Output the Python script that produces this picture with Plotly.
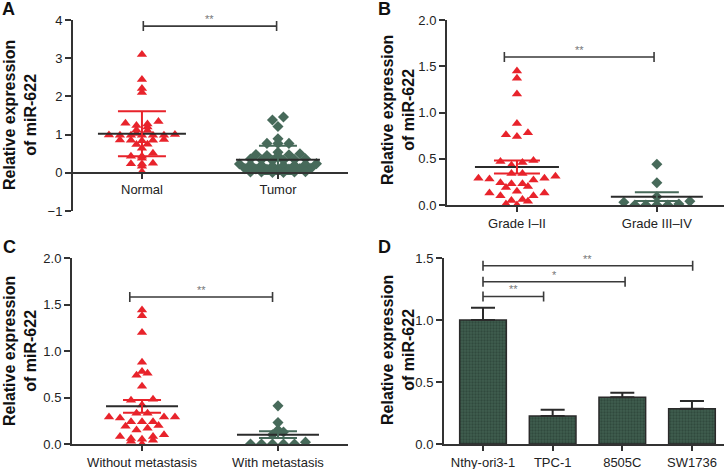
import plotly.graph_objects as go

# ---------------- data ----------------
cats_A = ["Normal", "Tumor"]
normal_A = [3.10, 2.44, 2.21, 2.10, 1.34, 1.30, 1.28, 1.24, 1.20, 1.12, 1.11, 1.03,
            1.00, 0.99, 0.98, 0.98, 0.98, 0.98, 0.98, 0.87, 0.86, 0.85, 0.85, 0.84,
            0.75, 0.74, 0.64, 0.51, 0.43, 0.43, 0.38, 0.25, 0.24, 0.23, 0.17, 0.03]
tumor_A = [1.46, 1.38, 1.21, 0.89, 0.77, 0.77, 0.77, 0.54, 0.50,
           0.48, 0.47, 0.45, 0.44,
           0.37, 0.36, 0.35, 0.34, 0.33, 0.32,
           0.24, 0.23, 0.22, 0.21, 0.20, 0.20, 0.19, 0.18,
           0.12, 0.11, 0.11, 0.10, 0.10, 0.09, 0.08,
           0.03, 0.02, 0.02, 0.02, 0.01, 0.01]
mean_A = [1.02, 0.34]
sd_A = [0.59, 0.37]

cats_B = ["Grade I\u2013II", "Grade III\u2013IV"]
grade12_B = [1.45, 1.37, 1.20, 0.88, 0.78, 0.76, 0.74, 0.48, 0.47, 0.46, 0.43, 0.34,
             0.34, 0.31, 0.29, 0.29, 0.28, 0.27, 0.24, 0.23, 0.23, 0.20, 0.19, 0.15,
             0.13, 0.13, 0.10, 0.10, 0.06, 0.05, 0.04, 0.01, 0.00]
grade34_B = [0.44, 0.24, 0.09, 0.04, 0.03, 0.01, 0.00, 0.00, 0.00, 0.00]
mean_B = [0.41, 0.09]
sem_B = [0.07, 0.047]

cats_C = ["Without metastasis", "With metastasis"]
without_C = [1.44, 1.38, 1.20, 0.88, 0.78, 0.76, 0.74, 0.62, 0.48, 0.47, 0.42, 0.33,
             0.33, 0.29, 0.29, 0.29, 0.28, 0.24, 0.24, 0.24, 0.20, 0.19, 0.17, 0.15,
             0.10, 0.08, 0.08, 0.06, 0.05, 0.04, 0.03, 0.00]
with_C = [0.41, 0.23, 0.15, 0.13, 0.10, 0.02, 0.00, 0.00, 0.00, 0.00, 0.00]
mean_C = [0.405, 0.10]
sem_C = [0.068, 0.036]

cats_D = ["Nthy-ori3-1", "TPC-1", "8505C", "SW1736"]
values_D = [1.00, 0.226, 0.377, 0.285]
err_D = [0.099, 0.051, 0.037, 0.062]

# significance brackets: (x_left, x_right, height, label)
sig_A = [(0.01, 0.99, 3.84, "**")]
sig_B = [(-0.09, 0.98, 1.60, "**")]
sig_C = [(-0.09, 0.96, 1.58, "**")]
sig_D = [(0.0, 0.87, 1.19, "**"), (0.0, 2.04, 1.309, "*"), (0.0, 3.01, 1.438, "**")]

# ---------------- style ----------------
W, H = 724, 469
RED = "#e8232b"
GREEN = "#476a5a"
AX = "#333333"
FONT = "Liberation Sans, Arial, sans-serif"


def swarm(vals, ppu_y, ppu_x, hb, sx=11.0):
    """row-binned column scatter layout: returns horizontal offsets in category units"""
    bins = {}
    for i, v in enumerate(vals):
        bins.setdefault(round(v * ppu_y / hb), []).append(i)
    res = [0.0] * len(vals)
    for b, idxs in bins.items():
        idxs.sort(key=lambda j: vals[j])
        n = len(idxs)
        offs = sorted([(k - (n - 1) / 2) * sx for k in range(n)], key=lambda c: (abs(c), c))
        for j, o in zip(idxs, offs):
            res[j] = o / ppu_x
    return res


fig = go.Figure()

# panel geometry (pixels)
panels = {
    "A": dict(xa="x", ya="y", xdom=(73, 348), ydom=(20, 211), yr=(-1, 4), xr=(-0.507, 1.515), hb=4.5),
    "B": dict(xa="x2", ya="y2", xdom=(447, 724), ydom=(20, 205), yr=(0, 2), xr=(-0.5, 1.48), hb=8.5),
    "C": dict(xa="x3", ya="y3", xdom=(72, 348), ydom=(258, 444), yr=(0, 2), xr=(-0.515, 1.515), hb=8.5),
    "D": dict(xa="x4", ya="y4", xdom=(444, 724), ydom=(258, 444), yr=(0, 1.5), xr=(-0.56, 3.46), hb=8.5),
}
for p in panels.values():
    p["ppu_y"] = (p["ydom"][1] - p["ydom"][0]) / (p["yr"][1] - p["yr"][0])
    p["ppu_x"] = (p["xdom"][1] - p["xdom"][0]) / (p["xr"][1] - p["xr"][0])


def add_group(pk, idx, vals, symbol, color, mean, err, mean_hw_px, cap_px, err_color):
    p = panels[pk]
    offs = swarm(vals, p["ppu_y"], p["ppu_x"], p["hb"])
    fig.add_trace(go.Scatter(
        x=[idx + o for o in offs], y=vals, mode="markers", xaxis=p["xa"], yaxis=p["ya"],
        marker=dict(symbol=symbol, size=9 if symbol.startswith("triangle") else 8.5,
                    color=color, line=dict(width=0)),
        showlegend=False, hoverinfo="y"))
    hw = mean_hw_px / p["ppu_x"]
    fig.add_trace(go.Scatter(
        x=[idx - hw, idx + hw], y=[mean, mean], mode="lines", xaxis=p["xa"], yaxis=p["ya"],
        line=dict(color="#2b2b2b", width=2), showlegend=False, hoverinfo="skip"))
    fig.add_trace(go.Scatter(
        x=[idx], y=[mean], mode="markers", xaxis=p["xa"], yaxis=p["ya"],
        marker=dict(size=1, color="rgba(0,0,0,0)"),
        error_y=dict(type="data", array=[err], symmetric=True, color=err_color,
                     thickness=2, width=cap_px),
        showlegend=False, hoverinfo="skip"))


def add_sig(pk, items):
    p = panels[pk]
    for x1, x2, h, lab in items:
        fig.add_trace(go.Scatter(
            x=[(x1 + x2) / 2], y=[h], mode="markers", xaxis=p["xa"], yaxis=p["ya"],
            marker=dict(size=1, color="rgba(0,0,0,0)"),
            error_x=dict(type="data", array=[(x2 - x1) / 2], symmetric=True,
                         color="#3a3a3a", thickness=1.6, width=5),
            showlegend=False, hoverinfo="skip"))
        fig.add_annotation(x=(x1 + x2) / 2, y=h, xref=p["xa"], yref=p["ya"], text=lab,
                           showarrow=False, yanchor="bottom", yshift=-1,
                           font=dict(family=FONT, size=11, color="#777777"))


# Panel A
add_group("A", 0, normal_A, "triangle-up", RED, mean_A[0], sd_A[0], 44, 24, RED)
add_group("A", 1, tumor_A, "diamond", GREEN, mean_A[1], sd_A[1], 42, 19, GREEN)
add_sig("A", sig_A)
# Panel B
add_group("B", 0, grade12_B, "triangle-up", RED, mean_B[0], sem_B[0], 42, 23, RED)
add_group("B", 1, grade34_B, "diamond", GREEN, mean_B[1], sem_B[1], 46, 22, GREEN)
add_sig("B", sig_B)
# Panel C
add_group("C", 0, without_C, "triangle-up", RED, mean_C[0], sem_C[0], 36, 19, RED)
add_group("C", 1, with_C, "diamond", GREEN, mean_C[1], sem_C[1], 41, 19, GREEN)
add_sig("C", sig_C)
# Panel D
fig.add_trace(go.Bar(
    x=list(range(len(cats_D))), y=values_D, xaxis="x4", yaxis="y4", width=0.67,
    marker=dict(color="#3d5a4b", line=dict(color="#2a2a2a", width=1.5),
                pattern=dict(shape=".", fgcolor="#22362c", bgcolor="#3f5e4f",
                             size=3, solidity=0.45)),
    error_y=dict(type="data", array=err_D, symmetric=False, arrayminus=[0] * 4,
                 color="#2a2a2a", thickness=2, width=12),
    showlegend=False, hoverinfo="y"))
add_sig("D", sig_D)

# axes
tickfont = dict(family=FONT, size=13, color="#222222")
layout_axes = {}
names = {"A": ("xaxis", "yaxis"), "B": ("xaxis2", "yaxis2"),
         "C": ("xaxis3", "yaxis3"), "D": ("xaxis4", "yaxis4")}
cats = {"A": cats_A, "B": cats_B, "C": cats_C, "D": cats_D}
for pk, p in panels.items():
    xn, yn = names[pk]
    xd = [p["xdom"][0] / W, p["xdom"][1] / W]
    yd = [1 - p["ydom"][1] / H, 1 - p["ydom"][0] / H]
    xax = dict(domain=xd, range=list(p["xr"]), tickmode="array",
               tickvals=list(range(len(cats[pk]))), ticktext=cats[pk],
               showline=True, linecolor=AX, linewidth=2, ticks="outside", ticklen=5,
               tickwidth=2, tickcolor=AX, showgrid=False, zeroline=False,
               tickfont=tickfont, fixedrange=True, automargin=False)
    if pk == "A":
        xax.update(anchor="free", position=1 - (p["ydom"][1] - p["ppu_y"] * 1) / H)
    else:
        xax.update(anchor=p["ya"])
    yax = dict(domain=yd, range=list(p["yr"]), showline=True, linecolor=AX, linewidth=2,
               ticks="outside", ticklen=6, tickwidth=2, tickcolor=AX, showgrid=False,
               zeroline=False, tickfont=tickfont, anchor=p["xa"], fixedrange=True,
               automargin=False)
    if pk == "A":
        yax.update(tickvals=[-1, 0, 1, 2, 3, 4])
    elif pk == "D":
        yax.update(tickvals=[0, 0.5, 1.0, 1.5], tickformat=".1f")
    else:
        yax.update(tickvals=[0, 0.5, 1.0, 1.5, 2.0], tickformat=".1f")
    layout_axes[xn] = xax
    layout_axes[yn] = yax

fig.update_layout(width=W, height=H, margin=dict(l=0, r=0, t=0, b=0, autoexpand=False),
                  paper_bgcolor="white", plot_bgcolor="white", **layout_axes)

# y titles
ytitle = "Relative expression<br>of miR-622"
for (cx, cy) in [(20, 115), (398, 110), (20, 351), (398, 350)]:
    fig.add_annotation(x=cx / W, y=1 - cy / H, xref="paper", yref="paper", text=ytitle,
                       textangle=-90, showarrow=False, xanchor="center", yanchor="middle",
                       font=dict(family=FONT, size=16, color="#111111", weight="bold"))
# panel letters
for lab, lx, ly in [("A", 0, -3), ("B", 376, -3), ("C", 1, 235), ("D", 376, 235)]:
    fig.add_annotation(x=lx / W, y=1 - ly / H, xref="paper", yref="paper", text=lab,
                       showarrow=False, xanchor="left", yanchor="top",
                       font=dict(family=FONT, size=18, color="#111111", weight="bold"))

fig.write_html("out.html", config={"displayModeBar": False},
               post_script="document.body.style.margin='0px';document.body.style.padding='0px';")
